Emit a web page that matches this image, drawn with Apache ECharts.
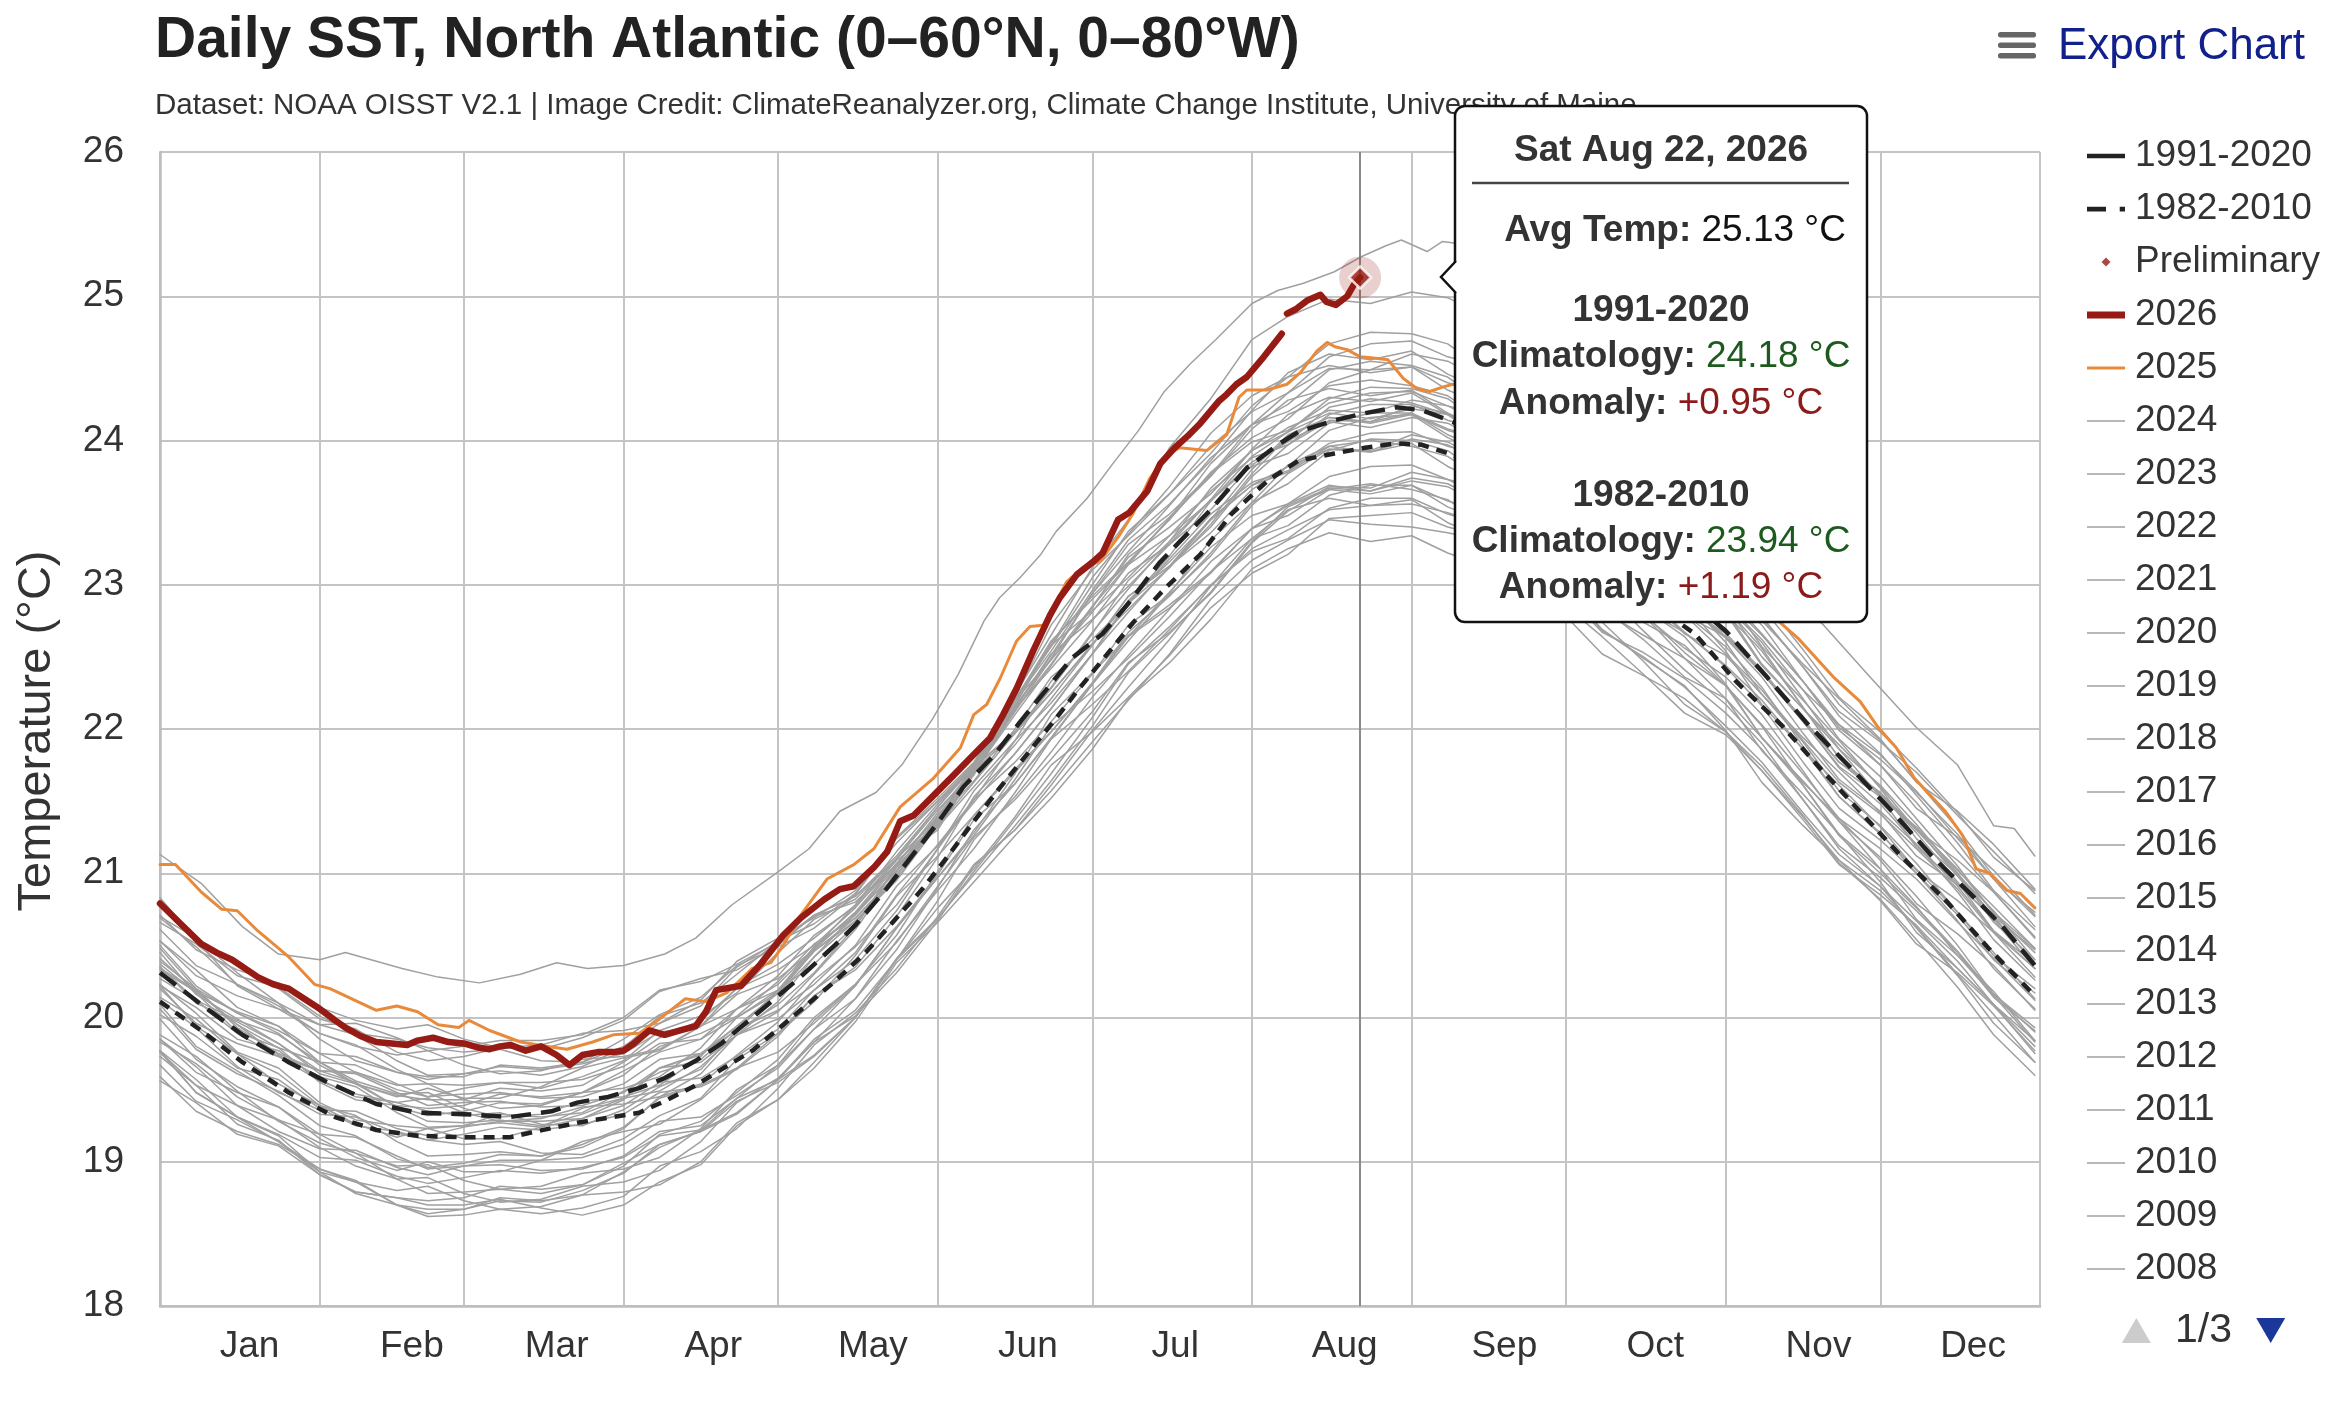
<!DOCTYPE html>
<html><head><meta charset="utf-8">
<script src="https://cdn.jsdelivr.net/npm/echarts@6/dist/echarts.min.js"></script>
<style>html,body{margin:0;padding:0;background:#fff}#c{width:2338px;height:1408px}</style>
</head><body><div id="c"></div>
<script>
const FONT = 'Liberation Sans, Arial, Helvetica, sans-serif';

// ---- axes ----
const monthStartDays = [0,31,59,90,120,151,181,212,243,273,304,334,365];
const monthLabelDays = [17.4,48.9,77,107.4,138.4,168.5,197.1,230,261,290.3,322,352];
const monthNames = ['Jan','Feb','Mar','Apr','May','Jun','Jul','Aug','Sep','Oct','Nov','Dec'];
const yMin = 18, yMax = 26, yStep = 1;

// ---- climatologies [dayOfYear, °C] ----
const clim1991_2020 = [[0,20.31],[8,20.09],[16,19.88],[25,19.69],[32,19.56],[42,19.40],[50,19.34],[59,19.33],[68,19.31],[76,19.35],[81,19.41],[87,19.45],[93,19.51],[98,19.58],[104,19.70],[109,19.82],[116,20.03],[124,20.27],[131,20.50],[135,20.64],[141,20.89],[146,21.12],[151,21.35],[156,21.60],[162,21.82],[167,22.05],[172,22.27],[177,22.49],[183,22.66],[188,22.87],[194,23.15],[198,23.30],[204,23.52],[211,23.81],[217,23.97],[221,24.06],[228,24.14],[234,24.19],[240,24.23],[245,24.21],[251,24.13],[258,23.98],[265,23.80],[273,23.58],[281,23.36],[288,23.14],[296,22.92],[304,22.68],[312,22.36],[320,22.03],[328,21.74],[336,21.44],[344,21.12],[352,20.84],[358,20.62],[364,20.36]];
const clim1982_2010 = [[0,20.11],[8,19.91],[16,19.69],[25,19.48],[34,19.31],[42,19.22],[50,19.18],[59,19.17],[68,19.17],[73,19.21],[81,19.27],[88,19.31],[93,19.34],[98,19.42],[104,19.53],[109,19.64],[115,19.77],[121,19.95],[126,20.10],[131,20.25],[137,20.45],[142,20.65],[148,20.89],[153,21.12],[158,21.36],[163,21.59],[168,21.81],[173,22.03],[178,22.26],[183,22.48],[189,22.74],[195,22.97],[202,23.21],[208,23.49],[215,23.72],[221,23.86],[228,23.91],[234,23.95],[240,23.98],[245,23.97],[251,23.90],[258,23.76],[265,23.57],[273,23.33],[281,23.09],[290,22.86],[298,22.66],[306,22.33],[315,22.02],[322,21.74],[330,21.43],[338,21.12],[347,20.80],[355,20.48],[364,20.15]];

// ---- highlighted years [dayOfYear, °C] ----
const y2026 = [[0,20.79],[4,20.65],[8,20.51],[11,20.45],[14,20.40],[19,20.28],[22,20.23],[25,20.20],[28,20.13],[31,20.06],[34,19.98],[36,19.93],[39,19.87],[42,19.83],[45,19.82],[48,19.81],[50,19.84],[53,19.86],[56,19.83],[59,19.82],[62,19.79],[64,19.78],[66,19.80],[68,19.81],[71,19.77],[74,19.80],[77,19.74],[79.5,19.67],[82,19.74],[85,19.76],[88,19.76],[90,19.77],[92,19.82],[95,19.91],[98,19.88],[101,19.91],[104,19.94],[106,20.04],[108,20.19],[112.8,20.22],[116.6,20.37],[121,20.57],[124.4,20.69],[129,20.82],[132,20.89],[134.7,20.91],[138.6,21.04],[141.2,21.15],[143.7,21.36],[146.3,21.40],[150.2,21.54],[154.1,21.68],[157.9,21.82],[161.2,21.94],[163.7,22.10],[166.3,22.28],[169.5,22.54],[172.8,22.79],[174.7,22.91],[178,23.07],[181.2,23.16],[183,23.22],[186,23.45],[188.2,23.50],[191.7,23.65],[194.2,23.84],[197,23.95],[199.5,24.03],[202,24.12],[205.5,24.27],[207.1,24.32],[209,24.39],[211,24.44],[214.3,24.58],[217.8,24.74],[218.3,'-'],[218.8,24.88],[220.5,24.91],[222.7,24.97],[225.3,25.01],[226.5,24.96],[228.3,24.94],[230.5,25.00],[231.8,25.08],[233,25.13]];
const y2025 = [[0,21.06],[3,21.06],[8,20.87],[12,20.75],[15,20.74],[19,20.60],[25,20.42],[30,20.23],[33,20.20],[36,20.15],[42,20.05],[46,20.08],[50,20.04],[54,19.95],[58,19.93],[60,19.98],[64,19.91],[70,19.83],[75,19.80],[79,19.78],[84,19.83],[88,19.88],[93,19.89],[97,19.99],[102,20.13],[106,20.11],[110,20.17],[115,20.34],[118.6,20.38],[121,20.50],[124.4,20.71],[129.5,20.96],[134.7,21.06],[138.6,21.17],[143.7,21.46],[150.2,21.66],[155.4,21.87],[158,22.10],[160.5,22.17],[163.1,22.35],[166.3,22.61],[168.9,22.71],[171.5,22.72],[173.4,22.84],[176,23.02],[179.2,23.12],[182.5,23.16],[186.4,23.35],[189,23.50],[192.2,23.74],[195.4,23.90],[198,23.95],[203.2,23.93],[207.1,24.04],[209.5,24.30],[211,24.35],[214.9,24.35],[218.8,24.39],[221.4,24.47],[224.6,24.62],[226.6,24.68],[228.1,24.65],[230.5,24.63],[233,24.58],[236,24.57],[238.4,24.56],[241.4,24.43],[244,24.36],[246.5,24.34],[249,24.37],[251,24.39],[260,24.23],[270,24.00],[282,23.71],[295,23.38],[305,23.09],[314.5,22.74],[318,22.63],[324.9,22.36],[330.1,22.19],[333.6,22.01],[337.1,21.87],[340.6,21.66],[346.6,21.43],[350,21.26],[352.6,21.03],[355.2,21.00],[358.6,20.88],[361.2,20.86],[364,20.76]];
const y2024 = [[0,21.13],[8,20.93],[16,20.63],[23,20.44],[31,20.40],[36,20.45],[42,20.39],[47,20.34],[54,20.28],[62,20.24],[70,20.30],[77,20.38],[83,20.34],[90,20.36],[98,20.44],[104,20.55],[111,20.78],[120,21.01],[126,21.17],[132,21.43],[139,21.56],[144,21.75],[150,22.07],[155,22.38],[160,22.75],[163,22.91],[167,23.05],[171,23.21],[174,23.37],[180,23.60],[185,23.84],[190,24.07],[195,24.34],[200,24.53],[205,24.70],[212,24.95],[217,25.04],[222,25.09],[228,25.17],[233,25.27],[238,25.35],[241,25.39],[246,25.31],[249,25.38],[253,25.36],[262,25.15],[272,24.82],[284,24.30],[296,23.72],[308,23.20],[323,22.72],[332,22.36],[341,22.01],[349,21.75],[356,21.33],[360,21.31],[364,21.12]];

// ---- other years, sampled on these days ----
const sampleDays = [0,7,15,23,31,38,46,52,59,66,74,82,90,97,105,112,120,127,135,143,151,158,166,173,181,188,196,204,212,219,227,235,243,250,258,265,273,280,288,296,304,311,319,326,334,341,349,356,364];
const v2023 = [20.78,20.54,20.22,20.06,19.95,19.96,19.86,19.77,19.80,19.84,19.84,19.88,20.00,20.19,20.25,20.37,20.52,20.71,20.84,21.10,21.46,21.76,22.24,22.65,23.12,23.45,23.95,24.29,24.70,24.86,24.98,24.95,25.03,24.99,24.85,24.57,24.35,24.11,23.78,23.45,23.15,22.91,22.55,22.22,21.98,21.73,21.42,21.11,20.88];
const v2022 = [20.71,20.47,20.33,20.24,20.07,19.98,19.92,19.95,19.85,19.79,19.81,19.89,19.91,19.96,20.12,20.39,20.55,20.69,20.88,21.21,21.50,21.76,22.22,22.72,23.10,23.34,23.63,23.96,24.20,24.33,24.58,24.67,24.69,24.58,24.51,24.35,24.09,23.81,23.61,23.42,23.11,22.75,22.45,22.21,21.93,21.63,21.43,21.20,20.89];
const v2021 = [20.66,20.51,20.29,20.21,20.01,19.89,19.85,19.79,19.76,19.78,19.70,19.69,19.80,19.96,20.08,20.35,20.53,20.65,20.86,21.25,21.52,21.77,22.20,22.54,22.96,23.31,23.56,23.86,24.21,24.47,24.60,24.56,24.62,24.46,24.33,24.15,23.88,23.62,23.47,23.31,23.08,22.84,22.50,22.17,21.92,21.64,21.31,20.98,20.70];
const v2020 = [20.83,20.54,20.37,20.20,19.99,19.92,19.76,19.70,19.73,19.79,19.78,19.86,19.98,20.18,20.27,20.33,20.50,20.71,20.84,21.12,21.46,21.74,22.18,22.58,23.05,23.35,23.68,24.05,24.31,24.44,24.67,24.75,24.74,24.67,24.47,24.22,24.02,23.80,23.53,23.23,23.04,22.77,22.43,22.12,21.91,21.70,21.40,21.15,20.86];
const v2019 = [20.70,20.55,20.31,20.10,19.95,19.88,19.70,19.60,19.61,19.63,19.60,19.66,19.79,20.01,20.10,20.30,20.53,20.70,20.80,21.06,21.42,21.73,22.14,22.51,22.94,23.28,23.49,23.76,24.11,24.33,24.50,24.49,24.60,24.55,24.40,24.16,23.98,23.78,23.50,23.23,22.99,22.72,22.33,22.01,21.79,21.56,21.27,20.96,20.73];
const v2018 = [20.35,20.12,19.98,19.88,19.69,19.56,19.47,19.48,19.37,19.31,19.33,19.42,19.45,19.53,19.73,20.00,20.17,20.42,20.72,21.05,21.34,21.70,22.15,22.52,22.76,22.99,23.28,23.59,23.82,23.91,24.12,24.19,24.19,24.08,24.00,23.88,23.65,23.41,23.24,23.08,22.80,22.44,22.14,21.86,21.53,21.18,20.93,20.68,20.34];
const v2017 = [20.69,20.49,20.23,20.10,19.85,19.70,19.62,19.59,19.59,19.67,19.65,19.69,19.85,20.02,20.14,20.36,20.49,20.62,20.85,21.24,21.50,21.72,22.21,22.57,23.00,23.37,23.63,23.91,24.24,24.44,24.52,24.47,24.51,24.35,24.23,24.08,23.85,23.59,23.45,23.27,23.03,22.78,22.43,22.09,21.83,21.54,21.21,20.88,20.61];
const v2016 = [20.61,20.36,20.23,20.08,19.89,19.81,19.64,19.54,19.53,19.55,19.51,19.59,19.70,19.91,20.01,20.17,20.45,20.68,20.82,21.10,21.44,21.70,22.10,22.44,22.85,23.14,23.46,23.84,24.11,24.25,24.49,24.55,24.52,24.44,24.24,23.99,23.79,23.58,23.32,23.05,22.90,22.65,22.33,22.03,21.82,21.57,21.24,20.96,20.63];
const v2015 = [20.33,20.18,19.95,19.79,19.69,19.67,19.54,19.45,19.47,19.48,19.44,19.45,19.54,19.71,19.75,19.94,20.17,20.48,20.73,21.01,21.39,21.69,22.20,22.48,22.81,23.14,23.34,23.58,23.89,24.06,24.19,24.15,24.22,24.18,24.03,23.83,23.68,23.53,23.29,23.06,22.86,22.60,22.21,21.86,21.61,21.34,21.00,20.66,20.40];
const v2014 = [20.50,20.22,20.03,19.89,19.67,19.54,19.45,19.51,19.44,19.44,19.52,19.65,19.72,19.77,19.94,20.16,20.27,20.47,20.73,21.07,21.36,21.73,22.20,22.61,22.90,23.15,23.46,23.77,23.99,24.07,24.26,24.33,24.34,24.24,24.17,24.05,23.82,23.55,23.35,23.15,22.82,22.45,22.14,21.89,21.60,21.30,21.09,20.87,20.56];
const v2013 = [20.37,20.17,19.90,19.79,19.55,19.43,19.39,19.37,19.39,19.47,19.45,19.48,19.63,19.76,19.85,20.06,20.19,20.37,20.64,21.05,21.33,21.63,21.97,22.28,22.66,23.03,23.30,23.59,23.94,24.18,24.30,24.27,24.33,24.18,24.06,23.88,23.61,23.32,23.14,22.93,22.66,22.41,22.06,21.77,21.55,21.31,21.03,20.73,20.48];
const v2012 = [20.48,20.20,20.03,19.91,19.75,19.73,19.62,19.57,19.61,19.66,19.64,19.68,19.75,19.90,19.94,20.06,20.29,20.57,20.77,21.06,21.40,21.71,22.12,22.49,22.94,23.23,23.55,23.88,24.11,24.20,24.38,24.42,24.38,24.31,24.12,23.90,23.74,23.56,23.34,23.08,22.93,22.66,22.33,21.99,21.75,21.49,21.15,20.87,20.55];
const v2011 = [20.39,20.20,19.93,19.75,19.63,19.62,19.50,19.45,19.51,19.55,19.55,19.57,19.66,19.82,19.85,20.00,20.19,20.46,20.67,20.96,21.35,21.68,22.16,22.48,22.85,23.19,23.40,23.63,23.93,24.09,24.21,24.19,24.28,24.24,24.10,23.90,23.75,23.59,23.34,23.07,22.84,22.56,22.15,21.80,21.54,21.30,21.00,20.70,20.47];
const v2010 = [20.53,20.29,20.15,20.06,19.89,19.80,19.74,19.77,19.67,19.61,19.63,19.71,19.73,19.78,19.94,20.21,20.37,20.55,20.78,21.15,21.48,21.75,22.16,22.60,22.92,23.16,23.45,23.78,24.02,24.15,24.40,24.49,24.51,24.40,24.33,24.17,23.91,23.63,23.43,23.24,22.93,22.57,22.27,22.03,21.75,21.45,21.25,21.02,20.71];
const v2009 = [20.22,20.07,19.85,19.77,19.57,19.45,19.41,19.35,19.32,19.34,19.26,19.25,19.36,19.52,19.64,19.91,20.09,20.31,20.63,21.04,21.32,21.60,21.92,22.18,22.52,22.87,23.12,23.42,23.77,24.03,24.16,24.12,24.18,24.02,23.89,23.71,23.44,23.18,23.03,22.87,22.64,22.40,22.06,21.73,21.48,21.20,20.87,20.54,20.26];
const v2008 = [20.45,20.16,19.99,19.82,19.61,19.54,19.38,19.32,19.35,19.41,19.40,19.48,19.60,19.80,19.89,20.01,20.25,20.51,20.69,20.99,21.35,21.73,21.98,22.29,22.67,22.97,23.30,23.67,23.93,24.06,24.29,24.37,24.36,24.29,24.09,23.84,23.64,23.42,23.15,22.85,22.66,22.39,22.05,21.74,21.53,21.32,21.02,20.77,20.48];
const v2007 = [20.34,20.19,19.95,19.74,19.59,19.52,19.34,19.24,19.25,19.27,19.24,19.30,19.43,19.65,19.74,19.94,20.17,20.46,20.69,20.98,21.37,21.71,21.97,22.25,22.58,22.92,23.13,23.40,23.75,23.97,24.14,24.13,24.24,24.19,24.04,23.80,23.62,23.42,23.14,22.87,22.63,22.36,21.97,21.65,21.43,21.20,20.91,20.60,20.37];
const v2006 = [20.41,20.18,20.04,19.94,19.75,19.62,19.53,19.54,19.43,19.37,19.39,19.48,19.51,19.59,19.79,20.06,20.23,20.48,20.78,21.10,21.38,21.75,22.21,22.58,22.82,23.05,23.34,23.65,23.88,23.97,24.18,24.25,24.25,24.14,24.06,23.94,23.71,23.47,23.30,23.14,22.86,22.50,22.20,21.92,21.59,21.24,20.99,20.74,20.40];
const v2005 = [20.53,20.33,20.07,19.94,19.69,19.54,19.46,19.43,19.43,19.51,19.49,19.53,19.69,19.86,19.98,20.20,20.33,20.50,20.76,21.09,21.30,21.70,22.13,22.45,22.84,23.21,23.47,23.75,24.08,24.28,24.36,24.31,24.35,24.19,24.07,23.92,23.69,23.43,23.29,23.11,22.87,22.62,22.27,21.93,21.67,21.38,21.05,20.72,20.45];
const v2004 = [20.35,20.10,19.97,19.82,19.63,19.55,19.38,19.28,19.27,19.29,19.25,19.33,19.44,19.65,19.75,19.91,20.19,20.49,20.71,21.02,21.38,21.74,21.98,22.25,22.59,22.88,23.20,23.58,23.85,23.99,24.23,24.29,24.26,24.18,23.98,23.73,23.53,23.32,23.06,22.79,22.64,22.39,22.07,21.77,21.56,21.31,20.98,20.70,20.37];
const v2003 = [20.27,20.12,19.89,19.73,19.63,19.61,19.48,19.39,19.41,19.42,19.38,19.39,19.48,19.65,19.69,19.88,20.11,20.42,20.67,20.95,21.33,21.70,22.14,22.42,22.75,23.08,23.28,23.52,23.83,24.00,24.13,24.09,24.16,24.12,23.97,23.77,23.62,23.47,23.23,23.00,22.80,22.54,22.15,21.80,21.55,21.28,20.94,20.60,20.34];
const v2002 = [20.22,19.94,19.75,19.61,19.39,19.26,19.17,19.23,19.16,19.16,19.24,19.37,19.44,19.49,19.66,19.88,19.99,20.19,20.45,20.85,21.20,21.51,21.92,22.33,22.62,22.87,23.18,23.49,23.71,23.79,23.98,24.05,24.06,23.96,23.89,23.77,23.54,23.27,23.07,22.87,22.54,22.17,21.86,21.61,21.32,21.02,20.81,20.59,20.28];
const v2001 = [20.23,20.03,19.76,19.65,19.41,19.29,19.25,19.23,19.25,19.33,19.31,19.34,19.49,19.62,19.71,19.92,20.05,20.23,20.50,20.91,21.19,21.49,21.83,22.14,22.52,22.89,23.16,23.45,23.80,24.04,24.16,24.13,24.19,24.04,23.92,23.74,23.47,23.18,23.00,22.79,22.52,22.27,21.92,21.63,21.41,21.17,20.89,20.59,20.34];
const v2000 = [20.06,19.78,19.61,19.49,19.33,19.31,19.20,19.15,19.19,19.24,19.22,19.26,19.33,19.48,19.52,19.64,19.87,20.15,20.35,20.70,21.11,21.53,21.83,22.14,22.52,22.81,23.13,23.46,23.69,23.78,23.96,24.00,23.96,23.89,23.70,23.48,23.32,23.14,22.92,22.66,22.51,22.24,21.91,21.57,21.33,21.07,20.73,20.45,20.13];
const v1999 = [20.12,19.93,19.66,19.48,19.36,19.35,19.23,19.18,19.24,19.28,19.28,19.30,19.39,19.55,19.58,19.73,19.92,20.19,20.40,20.74,21.17,21.57,21.89,22.21,22.58,22.92,23.13,23.36,23.66,23.82,23.94,23.92,24.01,23.97,23.83,23.63,23.48,23.32,23.07,22.80,22.57,22.29,21.88,21.53,21.27,21.03,20.73,20.43,20.20];
const v1998 = [20.20,19.96,19.82,19.73,19.56,19.47,19.41,19.44,19.34,19.28,19.30,19.38,19.40,19.45,19.61,19.88,20.04,20.30,20.61,21.01,21.37,21.64,22.00,22.36,22.59,22.83,23.12,23.45,23.69,23.82,24.07,24.16,24.18,24.07,24.00,23.84,23.58,23.30,23.10,22.91,22.60,22.24,21.94,21.70,21.42,21.12,20.92,20.69,20.38];
const v1997 = [20.02,19.87,19.65,19.57,19.37,19.25,19.21,19.15,19.12,19.14,19.06,19.05,19.16,19.32,19.44,19.71,19.89,20.11,20.43,20.84,21.12,21.40,21.72,21.98,22.32,22.67,22.92,23.22,23.57,23.83,23.96,23.92,23.98,23.82,23.69,23.51,23.24,22.98,22.83,22.67,22.44,22.20,21.86,21.53,21.28,21.00,20.67,20.34,20.06];
const v1996 = [20.09,19.80,19.63,19.46,19.25,19.18,19.02,18.96,18.99,19.05,19.04,19.12,19.24,19.44,19.53,19.65,19.89,20.15,20.33,20.63,20.99,21.37,21.62,21.93,22.31,22.61,22.94,23.31,23.57,23.70,23.93,24.01,24.00,23.93,23.73,23.48,23.28,23.06,22.79,22.49,22.30,22.03,21.69,21.38,21.17,20.96,20.66,20.41,20.12];
const v1995 = [20.14,19.99,19.75,19.54,19.39,19.32,19.14,19.04,19.05,19.07,19.04,19.10,19.23,19.45,19.54,19.74,19.97,20.26,20.49,20.78,21.17,21.51,21.77,22.05,22.38,22.72,22.93,23.20,23.55,23.77,23.94,23.93,24.04,23.99,23.84,23.60,23.42,23.22,22.94,22.67,22.43,22.16,21.77,21.45,21.23,21.00,20.71,20.40,20.17];
const v1994 = [19.85,19.62,19.48,19.38,19.19,19.06,18.97,18.98,18.87,18.81,18.83,18.92,18.95,19.03,19.23,19.50,19.67,19.92,20.22,20.62,20.97,21.26,21.65,22.02,22.26,22.49,22.78,23.09,23.32,23.41,23.62,23.69,23.69,23.58,23.50,23.38,23.15,22.91,22.74,22.58,22.30,21.94,21.64,21.36,21.03,20.68,20.43,20.18,19.84];
const v1993 = [19.77,19.57,19.31,19.18,18.93,18.78,18.70,18.67,18.67,18.75,18.73,18.77,18.93,19.10,19.22,19.44,19.57,19.74,20.00,20.40,20.68,21.01,21.37,21.69,22.08,22.45,22.71,22.99,23.32,23.52,23.60,23.55,23.59,23.43,23.31,23.16,22.93,22.67,22.53,22.35,22.11,21.86,21.51,21.17,20.91,20.62,20.29,19.96,19.69];
const v1992 = [19.67,19.42,19.29,19.14,18.95,18.87,18.70,18.62,18.63,18.67,18.64,18.68,18.76,18.97,19.07,19.23,19.51,19.81,20.03,20.34,20.70,21.06,21.30,21.57,21.91,22.20,22.52,22.90,23.17,23.31,23.45,23.42,23.40,23.36,23.30,23.05,22.85,22.64,22.38,22.11,21.96,21.71,21.39,21.09,20.88,20.63,20.30,20.02,19.69];
const v1991 = [19.83,19.68,19.45,19.29,19.19,19.17,19.04,18.95,18.97,18.98,18.94,18.95,19.04,19.21,19.25,19.44,19.67,19.98,20.23,20.57,21.01,21.40,21.70,21.98,22.31,22.64,22.84,23.08,23.39,23.56,23.69,23.65,23.72,23.68,23.53,23.33,23.18,23.03,22.79,22.56,22.36,22.10,21.71,21.36,21.11,20.84,20.50,20.16,19.90];
const v1990 = [19.99,19.71,19.52,19.38,19.16,19.03,18.94,19.00,18.93,18.93,19.01,19.14,19.21,19.26,19.43,19.65,19.76,19.96,20.22,20.62,20.97,21.28,21.69,22.10,22.39,22.64,22.95,23.26,23.48,23.56,23.75,23.82,23.83,23.73,23.66,23.54,23.31,23.04,22.84,22.64,22.31,21.94,21.63,21.38,21.09,20.79,20.58,20.36,20.05];
const v1989 = [19.73,19.53,19.26,19.15,18.91,18.79,18.75,18.73,18.75,18.83,18.81,18.84,18.99,19.12,19.21,19.42,19.55,19.73,20.00,20.41,20.69,20.99,21.33,21.64,22.02,22.39,22.66,22.95,23.30,23.54,23.66,23.63,23.69,23.54,23.42,23.24,22.97,22.68,22.50,22.29,22.02,21.77,21.42,21.13,20.91,20.67,20.39,20.09,19.84];
const v1988 = [19.76,19.48,19.31,19.19,19.03,19.01,18.90,18.85,18.89,18.94,18.92,18.96,19.03,19.18,19.22,19.34,19.57,19.85,20.05,20.40,20.81,21.23,21.53,21.84,22.22,22.51,22.83,23.16,23.39,23.48,23.66,23.70,23.66,23.59,23.40,23.18,23.02,22.84,22.62,22.36,22.21,21.94,21.61,21.27,21.03,20.77,20.43,20.15,19.83];
const v1987 = [19.85,19.66,19.39,19.21,19.09,19.08,18.96,18.91,18.97,19.01,19.01,19.03,19.12,19.28,19.31,19.46,19.65,19.92,20.13,20.47,20.90,21.30,21.62,21.94,22.31,22.65,22.86,23.09,23.39,23.55,23.67,23.65,23.74,23.70,23.56,23.36,23.21,23.05,22.80,22.53,22.30,22.02,21.61,21.26,21.00,20.76,20.46,20.16,19.93];
const v1986 = [19.59,19.35,19.21,19.12,18.95,18.86,18.80,18.83,18.73,18.67,18.69,18.77,18.79,18.84,19.00,19.27,19.43,19.69,20.00,20.40,20.76,21.03,21.39,21.75,21.98,22.22,22.51,22.84,23.08,23.21,23.46,23.48,23.50,23.40,23.33,23.23,22.97,22.69,22.49,22.30,21.99,21.63,21.33,21.09,20.81,20.51,20.31,20.08,19.77];
const v1985 = [19.56,19.41,19.19,19.11,18.91,18.79,18.75,18.70,18.70,18.74,18.68,18.63,18.70,18.86,18.98,19.25,19.43,19.65,19.97,20.38,20.66,20.94,21.26,21.52,21.86,22.21,22.46,22.76,23.11,23.25,23.36,23.30,23.34,23.22,23.12,23.00,22.78,22.52,22.37,22.21,21.98,21.74,21.40,21.07,20.82,20.54,20.21,19.88,19.60];
const v1984 = [19.77,19.48,19.31,19.14,18.93,18.86,18.70,18.64,18.67,18.73,18.72,18.80,18.92,19.12,19.21,19.33,19.57,19.83,20.01,20.31,20.67,21.05,21.30,21.61,21.99,22.29,22.62,22.99,23.25,23.38,23.52,23.55,23.56,23.50,23.41,23.16,22.96,22.74,22.47,22.17,21.98,21.71,21.37,21.06,20.85,20.64,20.34,20.09,19.80];
const v1983 = [19.88,19.73,19.49,19.28,19.13,19.06,18.88,18.78,18.79,18.81,18.78,18.84,18.97,19.19,19.28,19.48,19.71,20.00,20.23,20.52,20.91,21.25,21.51,21.79,22.12,22.46,22.67,22.94,23.29,23.51,23.68,23.67,23.78,23.73,23.58,23.34,23.16,22.96,22.68,22.41,22.17,21.90,21.51,21.19,20.97,20.74,20.45,20.14,19.91];
const v1982 = [19.76,19.53,19.39,19.29,19.10,18.97,18.88,18.89,18.78,18.72,18.74,18.83,18.86,18.94,19.14,19.41,19.58,19.83,20.13,20.53,20.88,21.17,21.56,21.93,22.17,22.40,22.69,23.00,23.23,23.32,23.53,23.60,23.60,23.49,23.41,23.29,23.06,22.82,22.65,22.49,22.21,21.85,21.55,21.27,20.94,20.59,20.34,20.09,19.75];

const sampledYears = [
  ['2023',v2023],['2022',v2022],['2021',v2021],['2020',v2020],['2019',v2019],['2018',v2018],['2017',v2017],
  ['2016',v2016],['2015',v2015],['2014',v2014],['2013',v2013],['2012',v2012],['2011',v2011],['2010',v2010],
  ['2009',v2009],['2008',v2008],['2007',v2007],['2006',v2006],['2005',v2005],['2004',v2004],['2003',v2003],
  ['2002',v2002],['2001',v2001],['2000',v2000],['1999',v1999],['1998',v1998],['1997',v1997],['1996',v1996],
  ['1995',v1995],['1994',v1994],['1993',v1993],['1992',v1992],['1991',v1991],['1990',v1990],['1989',v1989],
  ['1988',v1988],['1987',v1987],['1986',v1986],['1985',v1985],['1984',v1984],['1983',v1983],['1982',v1982]
];

// ---- hovered point / tooltip ----
const tipDay = 233;
const tipDate = 'Sat Aug 22, 2026';
const tipAvg = 25.13;
const tipClim9120 = 24.18;
const tipClim8210 = 23.94;

// ---- styles ----
const GRAY = '#a0a0a0', RED = '#961b14', ORANGE = '#e98a3b', BLACK = '#222222';

const series = [];
function addLine(name, data, color, width, z, type) {
  series.push({
    name, type: 'line', data, symbol: 'none', showSymbol: false, silent: true,
    connectNulls: false, clip: true, z,
    itemStyle: { color },
    lineStyle: { color, width, type: type || 'solid', cap: 'round', join: 'round' },
    emphasis: { disabled: true }, animation: false
  });
}
sampledYears.slice().reverse().forEach(([name, vals]) => {
  addLine(name, sampleDays.map((d, i) => [d, vals[i]]), GRAY, 1.5, 2);
});
addLine('2024', y2024, GRAY, 1.5, 2);
series.push({
  name: 'crosshair', type: 'line', data: [], silent: true, z: 2,
  markLine: { symbol: 'none', silent: true, animation: false, label: { show: false },
    lineStyle: { color: '#8a8a8a', width: 2, type: 'solid' }, data: [{ xAxis: tipDay }] }
});
addLine('1982-2010', clim1982_2010, BLACK, 4.5, 3, [11, 8]);
addLine('1991-2020', clim1991_2020, BLACK, 4.5, 3, [20, 10]);
series[series.length - 1].lineStyle.cap = 'butt';
series[series.length - 2].lineStyle.cap = 'butt';
addLine('2025', y2025, ORANGE, 3, 4);
addLine('2026', y2026, RED, 6.5, 5);
series.push({
  name: 'halo', type: 'scatter', data: [[tipDay, tipAvg]], symbol: 'circle', symbolSize: 42,
  itemStyle: { color: 'rgba(150,27,20,0.26)' }, silent: true, z: 6, animation: false
});
series.push({
  name: 'Preliminary', type: 'scatter', data: [[tipDay, tipAvg]], symbol: 'diamond', symbolSize: 22,
  itemStyle: { color: RED, borderColor: '#ffffff', borderWidth: 2.5 }, silent: true, z: 7, animation: false
});

// legend
const legendNames = ['1991-2020', '1982-2010', 'Preliminary', '2026', '2025', '2024']
  .concat(sampledYears.map(s => s[0]));
function legendIcon(n) {
  if (n === '1991-2020') return 'path://M0,0h38v4.5h-38z';
  if (n === '1982-2010') return 'path://M0,0h18v4.5h-18z M31,0h5v4.5h-5z';
  if (n === 'Preliminary') return 'path://M0,0 M38,14 M19,2.5 L23.5,7 L19,11.5 L14.5,7 Z';
  if (n === '2026') return 'path://M0,0h38v7h-38z';
  if (n === '2025') return 'path://M0,0h38v3h-38z';
  return 'path://M0,0h38v1.6h-38z';
}

const TX = { fontFamily: FONT };
const TF = 37;
const rich = {
  b: { fontFamily: FONT, fontSize: TF, fontWeight: 'bold', fill: '#333333' },
  v: { fontFamily: FONT, fontSize: TF, fill: '#111111' },
  g: { fontFamily: FONT, fontSize: TF, fill: '#1d5a1d' },
  r: { fontFamily: FONT, fontSize: TF, fill: '#8b1a1a' }
};
const fmt = (v) => v.toFixed(2) + ' °C';
const anom = (v) => (v >= 0 ? '+' : '') + v.toFixed(2) + ' °C';
const TIPX = 1661;
function tipText(y, text, extraX) {
  return { type: 'text', x: TIPX + (extraX || 0), y: y + 3.5, z: 103,
    style: { text, rich, align: 'center', verticalAlign: 'middle', fontFamily: FONT, fontSize: TF, fill: '#333' } };
}

const option = {
  animation: false,
  backgroundColor: '#ffffff',
  textStyle: TX,
  title: [
    { text: 'Daily SST, North Atlantic (0–60°N, 0–80°W)', left: 155, top: 13, padding: 0,
      textStyle: { fontFamily: FONT, fontSize: 57, fontWeight: 'bold', color: '#222222' } },
    { text: 'Dataset: NOAA OISST V2.1 | Image Credit: ClimateReanalyzer.org, Climate Change Institute, University of Maine',
      left: 155, top: 91, padding: 0,
      textStyle: { fontFamily: FONT, fontSize: 29.5, fontWeight: 'normal', color: '#333333' } }
  ],
  grid: { left: 160, right: 298, top: 152, bottom: 102, containLabel: false },
  xAxis: {
    type: 'value', min: 0, max: 365,
    axisLine: { show: true, lineStyle: { color: '#bdbdbd', width: 2.5 } },
    axisTick: { show: false, customValues: monthStartDays },
    splitLine: { show: true, showMinLine: true, showMaxLine: true, lineStyle: { color: '#c4c4c4', width: 2 } },
    axisLabel: {
      customValues: monthLabelDays, margin: 22, fontSize: 37, color: '#333333', fontFamily: FONT,
      formatter: (v) => { const i = monthLabelDays.indexOf(v); return i >= 0 ? monthNames[i] : ''; }
    }
  },
  yAxis: {
    type: 'value', min: yMin, max: yMax, interval: yStep,
    axisLine: { show: true, lineStyle: { color: '#bdbdbd', width: 2.5 } },
    axisTick: { show: false },
    splitLine: { show: true, lineStyle: { color: '#c4c4c4', width: 2 } },
    axisLabel: { margin: 36, fontSize: 37, color: '#333333', fontFamily: FONT }
  },
  legend: {
    type: 'scroll', orient: 'vertical', left: 2087, top: 137.5, height: 1213.5,
    itemWidth: 38, itemHeight: 14, itemGap: 16, align: 'left', padding: 0,
    data: legendNames.map(n => ({ name: n, icon: legendIcon(n) })),
    itemStyle: { borderWidth: 0 },
    textStyle: { fontFamily: FONT, fontSize: 37, color: '#333333', lineHeight: 37, padding: [0, 0, 0, 5] },
    selectedMode: false,
    pageButtonPosition: 'end', pageButtonGap: 10, pageButtonItemGap: 6,
    pageIcons: { vertical: ['path://M0,26L15,0L30,26z', 'path://M0,0L30,0L15,26z'] },
    pageIconSize: 29, pageIconColor: '#1a3799', pageIconInactiveColor: '#cccccc',
    pageTextStyle: { fontFamily: FONT, fontSize: 41, color: '#333333' },
    pageFormatter: '{current}/{total}'
  },
  series,
  graphic: [
    { type: 'text', x: 37, y: 731, rotation: Math.PI / 2, z: 50,
      style: { text: 'Temperature (°C)', fontFamily: FONT, fontSize: 47, fill: '#333333', align: 'center', verticalAlign: 'middle' } },
    // Export Chart button
    { type: 'rect', z: 50, shape: { x: 1998, y: 32, width: 38, height: 5.5, r: 2.5 }, style: { fill: '#666666' } },
    { type: 'rect', z: 50, shape: { x: 1998, y: 42.5, width: 38, height: 5.5, r: 2.5 }, style: { fill: '#666666' } },
    { type: 'rect', z: 50, shape: { x: 1998, y: 53, width: 38, height: 5.5, r: 2.5 }, style: { fill: '#666666' } },
    { type: 'text', x: 2058, y: 47, z: 50,
      style: { text: 'Export Chart', fontFamily: FONT, fontSize: 44, fill: '#12208c', align: 'left', verticalAlign: 'middle' } },
    // tooltip box
    { type: 'rect', z: 100, shape: { x: 1455, y: 106, width: 412, height: 516, r: 10 },
      style: { fill: '#ffffff', stroke: '#111111', lineWidth: 2.5 } },
    { type: 'polygon', z: 101, shape: { points: [[1458, 260], [1441, 277], [1458, 294]] }, style: { fill: '#ffffff' } },
    { type: 'polyline', z: 102, shape: { points: [[1456, 261], [1441, 277], [1456, 293]] },
      style: { stroke: '#111111', lineWidth: 2.5, fill: null } },
    { type: 'line', z: 102, shape: { x1: 1472, y1: 183, x2: 1849, y2: 183 }, style: { stroke: '#444444', lineWidth: 2.5 } },
    { type: 'text', x: TIPX, y: 151, z: 103,
      style: { text: tipDate, fontFamily: FONT, fontSize: 37, fontWeight: 'bold', fill: '#333333', align: 'center', verticalAlign: 'middle' } },
    tipText(227, '{b|Avg Temp:} {v|' + fmt(tipAvg) + '}', 14),
    tipText(307, '{b|1991-2020}'),
    tipText(353, '{b|Climatology:} {g|' + fmt(tipClim9120) + '}'),
    tipText(400, '{b|Anomaly:} {r|' + anom(tipAvg - tipClim9120) + '}'),
    tipText(492, '{b|1982-2010}'),
    tipText(538, '{b|Climatology:} {g|' + fmt(tipClim8210) + '}'),
    tipText(584, '{b|Anomaly:} {r|' + anom(tipAvg - tipClim8210) + '}')
  ]
};

const chart = echarts.init(document.getElementById('c'), null, { renderer: 'canvas', width: 2338, height: 1408 });
chart.setOption(option);
</script>
</body></html>
